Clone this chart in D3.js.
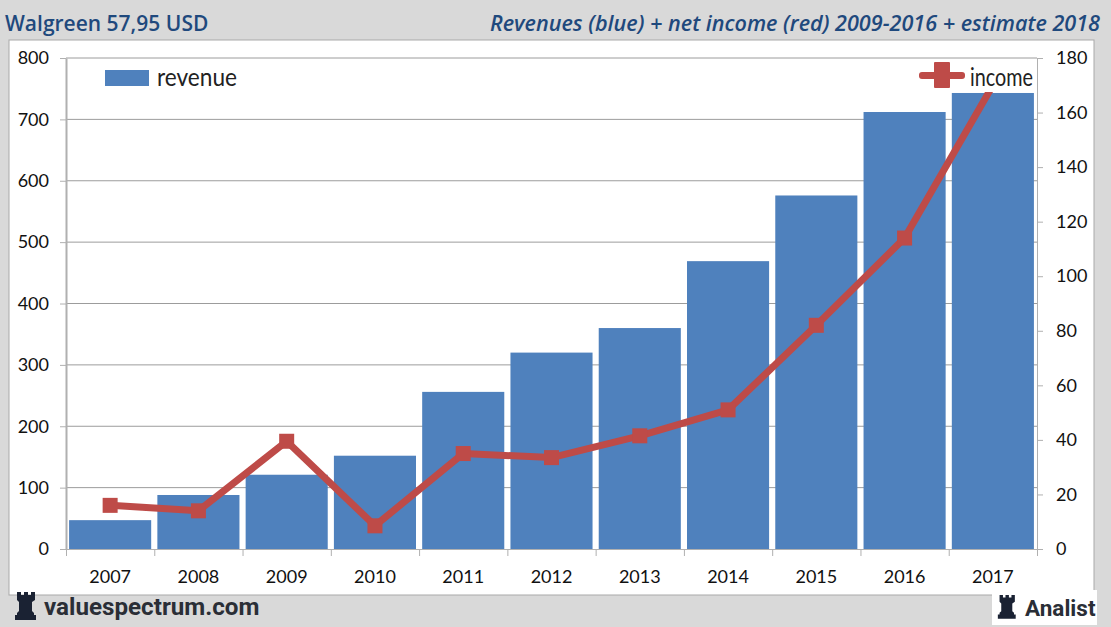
<!DOCTYPE html>
<html>
<head>
<meta charset="utf-8">
<script src="https://cdn.jsdelivr.net/npm/d3@7"></script>
<style>
  html, body { margin: 0; padding: 0; background: #d9d9d9; overflow: hidden; }
  svg { display: block; }
  .tick text { font-family: Lato, sans-serif; font-size: 18px; fill: #111; }
</style>
</head>
<body>
<svg id="chart" width="1111" height="627"></svg>
<script>
const years = ['2007', '2008', '2009', '2010', '2011', '2012', '2013', '2014', '2015', '2016', '2017'];
const revenue = [47, 88, 121, 152, 256, 320, 360, 469, 576, 712, 743];
const income = [16, 14, 39.5, 8.5, 35, 33.5, 41.5, 51, 82, 114, 170];
const revenueTicks = [0, 100, 200, 300, 400, 500, 600, 700, 800];
const incomeTicks = [0, 20, 40, 60, 80, 100, 120, 140, 160, 180];

const svg = d3.select('#chart');
const left = 66, right = 1037, top_ = 58, bottom = 549;
const axisGrey = '#b0b0b0';
const gridGrey = '#9c9c9c';
const blue = '#4f81bd';
const red = '#be4b48';
const titleBlue = '#1f497d';

// panel
svg.append('rect').attr('x', 9).attr('y', 40).attr('width', 1085).attr('height', 555)
  .attr('fill', '#fff').attr('stroke', '#a9a9a9');

const x = d3.scaleBand().domain(years).range([left, right]).paddingInner(0.07).paddingOuter(0.035);
const xEdges = d3.scaleLinear().domain([0, years.length]).range([left, right]);
const yL = d3.scaleLinear().domain([0, 800]).range([bottom, top_]);
const yR = d3.scaleLinear().domain([0, 180]).range([bottom, top_]);

// gridlines
svg.append('g').selectAll('line').data(revenueTicks.slice(1)).enter().append('line')
  .attr('x1', left).attr('x2', right)
  .attr('y1', d => yL(d)).attr('y2', d => yL(d))
  .attr('stroke', gridGrey).attr('stroke-width', 1);

// bars
svg.append('g').selectAll('rect').data(revenue).enter().append('rect')
  .attr('x', (d, i) => x(years[i]))
  .attr('width', x.bandwidth())
  .attr('y', d => yL(d))
  .attr('height', d => bottom - yL(d))
  .attr('fill', blue);

// axes
const leftAxis = svg.append('g').attr('transform', `translate(${left},0)`)
  .call(d3.axisLeft(yL).tickValues(revenueTicks).tickSize(6).tickPadding(11).tickSizeOuter(0));
const rightAxis = svg.append('g').attr('transform', `translate(${right},0)`)
  .call(d3.axisRight(yR).tickValues(incomeTicks).tickSize(6).tickPadding(13).tickSizeOuter(0));
const edgeAxis = svg.append('g').attr('transform', `translate(0,${bottom})`)
  .call(d3.axisBottom(xEdges).tickValues(d3.range(years.length + 1)).tickSize(7).tickFormat('').tickSizeOuter(0));
const labelAxis = svg.append('g').attr('transform', `translate(0,${bottom})`)
  .call(d3.axisBottom(x).tickSize(0).tickPadding(21));
labelAxis.select('.domain').remove();
[leftAxis, rightAxis, edgeAxis].forEach(a => {
  a.selectAll('.domain, line').attr('stroke', axisGrey);
});
leftAxis.select('.domain').attr('stroke-width', 2);

// income line
const line = d3.line().x((d, i) => x(years[i]) + x.bandwidth() / 2).y(d => yR(d));
svg.append('path').datum(income)
  .attr('d', line).attr('fill', 'none')
  .attr('stroke', red).attr('stroke-width', 7).attr('stroke-linejoin', 'round');
svg.append('g').selectAll('rect').data(income.slice(0, -1)).enter().append('rect')
  .attr('x', (d, i) => x(years[i]) + x.bandwidth() / 2 - 7.5)
  .attr('y', d => yR(d) - 7.5)
  .attr('width', 15).attr('height', 15)
  .attr('fill', red);

// legends
svg.append('rect').attr('x', 905).attr('y', 59).attr('width', 132).attr('height', 33).attr('fill', '#fff');
svg.append('rect').attr('x', 105).attr('y', 70).attr('width', 44).attr('height', 16).attr('fill', blue);
svg.append('text').attr('x', 157).attr('y', 86)
  .attr('font-family', 'Lato, sans-serif').attr('font-size', 25).attr('fill', '#222')
  .attr('textLength', 80).attr('lengthAdjust', 'spacingAndGlyphs').text('revenue');
svg.append('rect').attr('x', 919).attr('y', 72).attr('width', 46).attr('height', 7).attr('rx', 3).attr('fill', red);
svg.append('rect').attr('x', 934).attr('y', 62).attr('width', 16).attr('height', 26).attr('rx', 1).attr('fill', red);
svg.append('text').attr('x', 970).attr('y', 86)
  .attr('font-family', 'Lato, sans-serif').attr('font-size', 25).attr('fill', '#222')
  .attr('textLength', 63).attr('lengthAdjust', 'spacingAndGlyphs').text('income');

// titles
svg.append('text').attr('x', 5).attr('y', 31)
  .attr('font-family', '"Open Sans", sans-serif').attr('font-weight', 600).attr('font-size', 21)
  .attr('fill', titleBlue).text('Walgreen 57,95 USD');
svg.append('text').attr('x', 1100).attr('y', 31).attr('text-anchor', 'end')
  .attr('font-family', '"Open Sans", sans-serif').attr('font-weight', 600).attr('font-style', 'italic').attr('font-size', 21.6)
  .attr('fill', titleBlue).text('Revenues (blue) + net income (red) 2009-2016 + estimate 2018');

// rook logo
function rook(px, py, s) {
  svg.append('path')
    .attr('transform', `translate(${px},${py}) scale(${s})`)
    .attr('fill', '#1a2233')
    .attr('d', 'M3 0h4v3h3V0h4v3h3V0h4v8l-3 2v9l2 2v2h2v5H1v-5h2v-2l2-2v-9L3 8z');
}

// footer
rook(14, 592, 1);
svg.append('text').attr('x', 44).attr('y', 615)
  .attr('font-family', 'Roboto, sans-serif').attr('font-weight', 700).attr('font-size', 24.2)
  .attr('fill', '#2a2e36').text('valuespectrum.com');
svg.append('rect').attr('x', 992).attr('y', 590).attr('width', 105).attr('height', 35).attr('fill', '#fff');
rook(997, 595, 0.85);
svg.append('text').attr('x', 1025).attr('y', 616)
  .attr('font-family', 'Roboto, sans-serif').attr('font-weight', 700).attr('font-size', 22.5)
  .attr('fill', '#2a2e36').text('Analist');
</script>
</body>
</html>
